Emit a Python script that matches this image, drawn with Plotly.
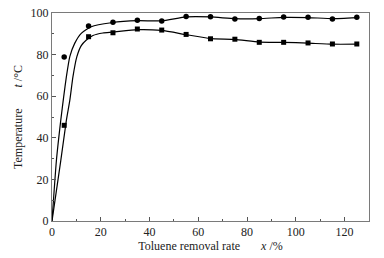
import plotly.graph_objects as go

x_pts = [5, 15, 25, 35, 45, 55, 65, 75, 85, 95, 105, 115, 125]
circle_vals = [78.8, 93.7, 95.5, 96.5, 96.2, 98.3, 98.2, 97.1, 97.3, 98.1, 97.9, 97.1, 97.9]
square_vals = [46.0, 88.6, 90.5, 92.3, 91.8, 89.7, 87.6, 87.4, 85.9, 85.9, 85.6, 85.1, 85.1]

# fitted curves
curve1_x = [0, 1.8, 3.6, 4.8, 5.9, 7.3, 9.3, 12.0, 16.1, 24.3, 35, 45, 55, 65, 75, 85, 95, 105, 115, 125]
curve1_y = [0, 29.0, 48.5, 59.8, 69.4, 79.0, 85.4, 90.2, 93.4, 95.3, 96.3, 96.2, 98.1, 98.1, 97.3, 97.3, 97.9, 97.8, 97.3, 97.8]
curve2_x = [0, 3.6, 5.9, 7.3, 8.6, 10.2, 12.0, 14.1, 16.8, 20.9, 25, 35, 45, 55, 65, 75, 85, 95, 105, 115, 125]
curve2_y = [0, 29.0, 48.5, 58.0, 69.4, 79.0, 84.3, 87.0, 89.2, 90.4, 90.8, 92.0, 91.6, 89.6, 87.7, 87.3, 86.0, 85.9, 85.5, 85.0, 85.0]

font = "Liberation Serif, Times New Roman, serif"

fig = go.Figure()
fig.add_trace(go.Scatter(x=curve1_x, y=curve1_y, mode="lines",
                         line=dict(color="black", width=1.2, shape="spline", smoothing=0.5)))
fig.add_trace(go.Scatter(x=curve2_x, y=curve2_y, mode="lines",
                         line=dict(color="black", width=1.2, shape="spline", smoothing=0.5)))
fig.add_trace(go.Scatter(x=x_pts, y=circle_vals, mode="markers",
                         marker=dict(symbol="circle", size=5.5, color="black")))
fig.add_trace(go.Scatter(x=x_pts, y=square_vals, mode="markers",
                         marker=dict(symbol="square", size=5, color="black")))

axis_common = dict(showline=True, linecolor="#7a7a7a", linewidth=1, mirror=True,
                   ticks="inside", ticklen=4, tickcolor="#555555", showgrid=False,
                   zeroline=False, automargin=False,
                   tickfont=dict(family=font, size=12, color="#222222"))

fig.update_layout(
    width=384, height=258,
    margin=dict(l=52, r=15, t=13, b=37),
    plot_bgcolor="white", paper_bgcolor="white",
    showlegend=False,
    font=dict(family=font, color="#222222"),
    xaxis=dict(range=[0, 130], tickvals=[0, 20, 40, 60, 80, 100, 120],
               minor=dict(tickvals=[10, 30, 50, 70, 90, 110], ticks="inside", ticklen=2, tickcolor="#555555"),
               title=dict(text="Toluene removal rate       <i>x</i> /%", font=dict(family=font, size=12), standoff=3),
               **axis_common),
    yaxis=dict(range=[0, 100], tickvals=[0, 20, 40, 60, 80, 100],
               minor=dict(tickvals=[10, 30, 50, 70, 90], ticks="inside", ticklen=2, tickcolor="#555555"),
               title=dict(text="Temperature       <i>t</i> /°C", font=dict(family=font, size=12), standoff=5),
               **axis_common),
)

fig.write_html("out.html", config={"displayModeBar": False},
               post_script="document.body.style.margin='0';")
